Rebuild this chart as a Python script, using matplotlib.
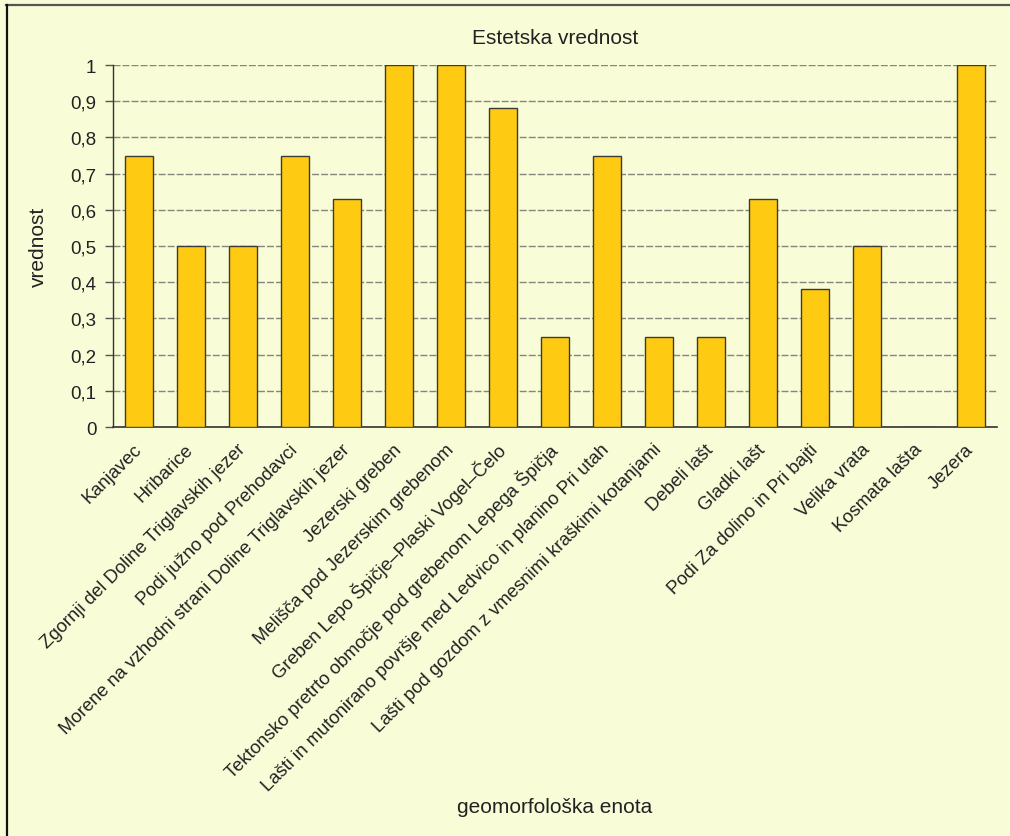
import matplotlib
matplotlib.use("Agg")
import matplotlib.pyplot as plt
from matplotlib.lines import Line2D
from matplotlib.ticker import FuncFormatter

plt.rcParams['font.family'] = ['Liberation Sans', 'DejaVu Sans']

categories = [
    "Kanjavec",
    "Hribarice",
    "Zgornji del Doline Triglavskih jezer",
    "Podi južno pod Prehodavci",
    "Morene na vzhodni strani Doline Triglavskih jezer",
    "Jezerski greben",
    "Melišča pod Jezerskim grebenom",
    "Greben Lepo Špičje–Plaski Vogel–Čelo",
    "Tektonsko pretrto območje pod grebenom Lepega Špičja",
    "Lašti in mutonirano površje med Ledvico in planino Pri utah",
    "Lašti pod gozdom z vmesnimi kraškimi kotanjami",
    "Debeli lašt",
    "Gladki lašt",
    "Podi Za dolino in Pri bajti",
    "Velika vrata",
    "Kosmata lašta",
    "Jezera",
]
values = [0.75, 0.5, 0.5, 0.75, 0.63, 1.0, 1.0, 0.88, 0.25, 0.75,
          0.25, 0.25, 0.63, 0.38, 0.5, 0.0, 1.0]
y_ticks = [0, 0.1, 0.2, 0.3, 0.4, 0.5, 0.6, 0.7, 0.8, 0.9, 1.0]

bg = "#F8FDD8"
bar_color = "#FFCB12"
txt = "#222222"

fig = plt.figure(figsize=(10.10, 8.37), dpi=100, facecolor=bg)
ax = fig.add_axes([0.1119, 0.4886, 0.8752, 0.4325])
ax.set_facecolor(bg)

x = list(range(len(categories)))
ax.bar(x, values, width=0.53, color=bar_color, edgecolor="#3a3a3a",
       linewidth=1.0, zorder=3)

ax.set_xlim(-0.5, len(categories) - 0.5)
ax.set_ylim(0, 1)
ax.set_yticks(y_ticks)
ax.yaxis.set_major_formatter(FuncFormatter(
    lambda v, p: ("%g" % round(v, 2)).replace(".", ",")))
ax.grid(axis="y", color="#86877a", linewidth=1.0, linestyle=(0, (5, 1.5)),
        zorder=0)
ax.set_axisbelow(True)

for s in ("top", "right"):
    ax.spines[s].set_visible(False)
ax.spines["left"].set_color("#333333")
ax.spines["bottom"].set_color("#333333")
ax.spines["left"].set_linewidth(1.0)
ax.spines["bottom"].set_linewidth(1.2)

ax.tick_params(axis="y", length=6, width=1, color="#555555",
               labelsize=13.5, labelcolor=txt, pad=6)
ax.tick_params(axis="x", length=0, pad=14)
ax.set_xticks(x)
ax.set_xticklabels(categories, rotation=45, ha="right", va="center",
                   rotation_mode="anchor", fontsize=13.3, color=txt)

ax.set_title("Estetska vrednost", fontsize=15, color=txt, pad=16)
ax.set_ylabel("vrednost", fontsize=15, color=txt, labelpad=16)
fig.text(0.5495, 1 - 808 / 837, "geomorfološka enota", fontsize=15,
         color=txt, ha="center", va="center")

# frame lines along the top and left edges of the figure
fig.add_artist(Line2D([6 / 1010, 1.0], [1 - 5.5 / 837, 1 - 5.5 / 837],
                      transform=fig.transFigure, color="#555555", linewidth=1.6))
fig.add_artist(Line2D([6.5 / 1010, 6.5 / 1010], [0, 1 - 5.5 / 837],
                      transform=fig.transFigure, color="#111111", linewidth=1.6))

fig.savefig("out.png", dpi=100, facecolor=bg)
